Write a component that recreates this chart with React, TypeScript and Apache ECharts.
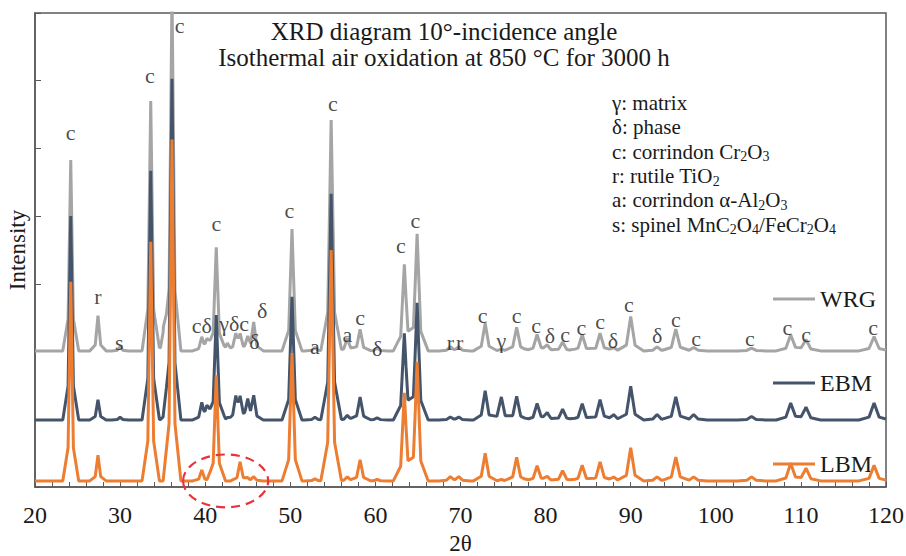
import React, { useEffect, useRef } from "react";
import * as echarts from "echarts";

// Peak positions (2θ)
const peakPos = [24.2, 27.4, 30.0, 33.6, 35.1, 36.1, 39.6, 40.2, 41.3, 42.6, 43.6, 44.1, 45.0, 45.7, 50.2, 52.9, 54.8, 56.7, 58.2, 60.2, 63.4, 64.9, 68.8, 69.8, 72.9, 74.8, 76.6, 79.0, 80.2, 82.0, 84.3, 86.4, 88.0, 90.0, 93.1, 95.3, 97.4, 104.2, 108.8, 110.6, 118.6];

// Peak heights above each curve's baseline
const wrgHeights = [2820, 520, 60, 3690, 310, 5300, 190, 160, 1530, 110, 230, 220, 170, 410, 1800, 50, 3410, 190, 320, 40, 1280, 1730, 60, 60, 410, 30, 350, 240, 80, 130, 240, 260, 50, 510, 60, 320, 50, 40, 240, 170, 210];
const ebmHeights = [3010, 300, 40, 3680, 50, 5040, 240, 190, 1550, 30, 320, 300, 270, 340, 1820, 40, 3340, 70, 340, 30, 1280, 1730, 40, 40, 430, 340, 350, 240, 100, 160, 240, 300, 80, 500, 80, 340, 80, 50, 250, 190, 250];
const lbmHeights = [2940, 380, 0, 3530, 0, 5040, 160, 0, 1560, 0, 0, 280, 30, 60, 1890, 30, 3410, 60, 310, 20, 1300, 1760, 60, 60, 410, 20, 350, 220, 60, 150, 230, 280, 60, 490, 60, 350, 60, 60, 260, 190, 230];

// Baselines (vertical offsets) of the three curves
const seriesNames = ["WRG", "EBM", "LBM"];
const baselines = [2010, 990, 90];
const seriesColors = ["#A5A5A5", "#44546A", "#ED7D31"];

// Phase labels: [text, 2θ, intensity]
const phaseLabels: [string, number, number][] = [
  ["c", 24.2, 5230], ["r", 27.4, 2820], ["s", 29.9, 2130], ["c", 33.5, 6070], ["c", 37.0, 6820],
  ["c", 41.3, 3885], ["c", 49.9, 4090], ["c", 55.0, 5670], ["cδ", 39.6, 2380],
  ["γδc", 43.4, 2420], ["δ", 45.8, 2150], ["δ", 46.7, 2600],
  ["a", 52.9, 2080], ["a", 56.7, 2250], ["c", 58.2, 2500], ["δ", 60.2, 2050], ["c", 63.0, 3560],
  ["c", 64.7, 3940], ["r", 68.8, 2130], ["r", 69.9, 2130], ["c", 72.6, 2540], ["γ", 74.8, 2170],
  ["c", 76.6, 2540], ["c", 78.9, 2390], ["δ", 80.5, 2230], ["c", 82.3, 2250], ["c", 84.2, 2350],
  ["c", 86.4, 2440], ["δ", 87.9, 2170], ["c", 89.8, 2700], ["δ", 93.1, 2230], ["c", 95.3, 2470],
  ["c", 97.7, 2200], ["c", 104.0, 2200], ["c", 108.4, 2360], ["c", 110.6, 2250], ["c", 118.5, 2360],
];

// Highlighted region (dashed ellipse) in data coords: 2θ range and intensity range
const highlightX = [37.4, 47.4];
const highlightY = [-300, 480];

const titleLines = ["XRD diagram 10°-incidence angle", "Isothermal air oxidation at 850 °C for 3000 h"];
const phaseLegend = [
  "γ: matrix",
  "δ: phase",
  "c: corrindon Cr{s|2}O{s|3}",
  "r: rutile TiO{s|2}",
  "a: corrindon α-Al{s|2}O{s|3}",
  "s: spinel MnC{s|2}O{s|4}/FeCr{s|2}O{s|4}",
];

const FONT = "'Liberation Serif', 'Times New Roman', serif";

function halfWidth(p: number) {
  return 0.3 + 0.003 * (p - 20);
}
function tri(x: number, p: number, w: number) {
  return Math.max(0, 1 - Math.abs(x - p) / w);
}
function buildCurve(base: number, heights: number[]) {
  const set = new Set<number>([20, 120]);
  peakPos.forEach((p, i) => {
    if (heights[i] > 0) {
      const w = halfWidth(p);
      [p - 3 * w, p - w, p, p + w, p + 3 * w].forEach((x) => {
        if (x >= 20 && x <= 120) set.add(Math.round(x * 1000) / 1000);
      });
    }
  });
  const xs = Array.from(set).sort((a, b) => a - b);
  return xs.map((x) => {
    let y = base;
    peakPos.forEach((p, i) => {
      const h = heights[i];
      if (h > 0) {
        const w = halfWidth(p);
        y += h * (0.75 * tri(x, p, w) + 0.25 * tri(x, p, 3 * w));
      }
    });
    return [x, Math.round(y)];
  });
}

export default function App() {
  const ref = useRef<HTMLDivElement>(null);
  useEffect(() => {
    if (!ref.current) return;
    const chart = echarts.init(ref.current, null, { renderer: "svg" });
    const heights = [wrgHeights, ebmHeights, lbmHeights];
    const legendTops = [282, 366, 447];
    const option: any = {
      animation: false,
      textStyle: { fontFamily: FONT },
      grid: {
        left: 35,
        right: 20,
        top: 13,
        bottom: 69,
        show: true,
        borderColor: "#595959",
        borderWidth: 1.5,
        outerBoundsMode: "none",
        containLabel: false,
      },
      xAxis: {
        type: "value",
        min: 20,
        max: 120,
        interval: 2,
        name: "2θ",
        nameLocation: "middle",
        nameGap: 35,
        nameTextStyle: { fontFamily: FONT, fontSize: 23, color: "#1a1a1a" },
        axisLine: { lineStyle: { color: "#595959", width: 1.5 } },
        axisTick: { inside: true, length: 5, lineStyle: { color: "#595959" } },
        axisLabel: {
          fontFamily: FONT,
          fontSize: 24,
          color: "#1a1a1a",
          margin: 16,
          formatter: (v: number) => (v % 10 === 0 ? String(v) : ""),
        },
        splitLine: { show: false },
      },
      yAxis: {
        type: "value",
        min: 0,
        max: 7000,
        interval: 1000,
        name: "Intensity",
        nameLocation: "middle",
        nameGap: 6,
        nameTextStyle: { fontFamily: FONT, fontSize: 23, color: "#1a1a1a" },
        axisLine: { show: true, lineStyle: { color: "#595959", width: 1.5 } },
        axisTick: { inside: true, length: 6, lineStyle: { color: "#595959" } },
        axisLabel: { show: false },
        splitLine: { show: false },
      },
      legend: seriesNames.map((n, i) => ({
        data: [n],
        left: 768,
        top: legendTops[i],
        icon: "rect",
        itemWidth: 42,
        itemHeight: 3,
        itemGap: 0,
        selectedMode: false,
        textStyle: { fontFamily: FONT, fontSize: 24, color: "#1a1a1a", lineHeight: 24, padding: [0, 0, 0, 0] },
      })),
      series: [
        ...seriesNames.map((n, i) => ({
          name: n,
          type: "line",
          data: buildCurve(baselines[i], heights[i]),
          showSymbol: false,
          symbol: "none",
          color: seriesColors[i],
          lineStyle: { color: seriesColors[i], width: 3 },
          clip: true,
          silent: true,
          z: 2 + i,
        })),
        {
          name: "labels",
          type: "scatter",
          silent: true,
          symbolSize: 0,
          itemStyle: { color: "transparent" },
          data: phaseLabels.map(([t, x, y]) => ({ name: t, value: [x, y] })),
          label: {
            show: true,
            position: "inside",
            formatter: "{b}",
            fontFamily: FONT,
            fontSize: 22,
            color: "#1a1a1a",
          },
          z: 10,
        },
      ],
    };
    chart.setOption(option);

    const p1 = chart.convertToPixel({ gridIndex: 0 }, [highlightX[0], highlightY[1]]) as number[];
    const p2 = chart.convertToPixel({ gridIndex: 0 }, [highlightX[1], highlightY[0]]) as number[];
    const titleCenters = [31, 57];
    chart.setOption({
      graphic: [
        ...titleLines.map((t, i) => ({
          type: "text",
          x: 444,
          y: titleCenters[i],
          style: {
            text: t,
            fontFamily: FONT,
            fontSize: 25,
            fill: "#1a1a1a",
            align: "center",
            verticalAlign: "middle",
          },
          z: 20,
        })),
        {
          type: "text",
          x: 612,
          y: 91,
          style: {
            text: phaseLegend.join("\n"),
            fontFamily: FONT,
            fontSize: 21,
            lineHeight: 24.3,
            fill: "#1a1a1a",
            rich: {
              s: { fontFamily: FONT, fontSize: 14, lineHeight: 14, verticalAlign: "bottom", fill: "#1a1a1a" },
            },
          },
          z: 20,
        },
        {
          type: "ellipse",
          shape: {
            cx: (p1[0] + p2[0]) / 2,
            cy: (p1[1] + p2[1]) / 2,
            rx: Math.abs(p2[0] - p1[0]) / 2,
            ry: Math.abs(p2[1] - p1[1]) / 2,
          },
          style: { fill: "none", stroke: "#E8323C", lineWidth: 2.2, lineDash: [9, 6] },
          z: 30,
        },
      ],
    });
    return () => chart.dispose();
  }, []);
  return <div ref={ref} style={{ width: 906, height: 556, position: "absolute", left: 0, top: 0 }} />;
}
